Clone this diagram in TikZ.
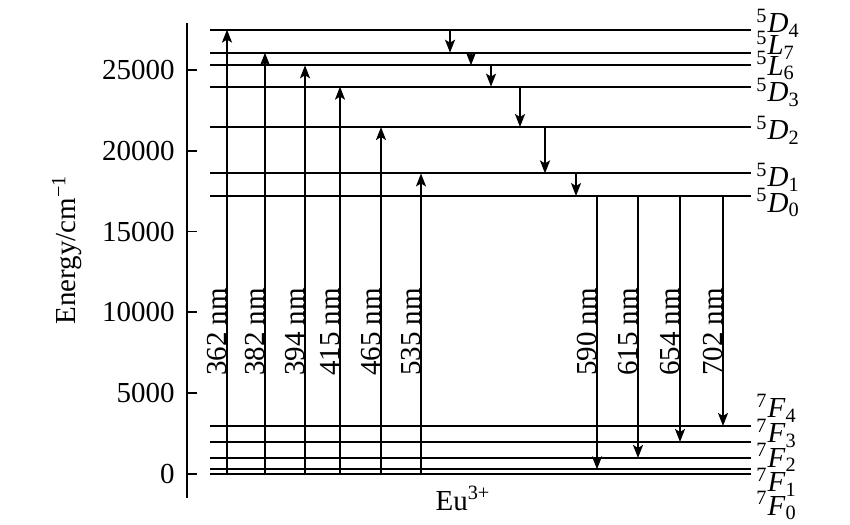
\documentclass[tikz,border=0pt]{standalone}
\usepackage{fontspec}
\setmainfont{Liberation Serif}
\usepackage{xcolor}
\usetikzlibrary{arrows.meta, positioning}

\tikzset{
    level/.style={line width=1pt},
    trans/.style={line width=0.9pt, -{Stealth[length=6.5pt, width=5pt, inset=1.5pt]}},
    wl/.style={rotate=90, anchor=south, inner sep=0pt, xshift=-2.5pt},
    term/.style={anchor=base west, inner sep=0pt},
}

\begin{document}
\begin{tikzpicture}[x=0.5pt, y=8.08pt, font=\fontsize{14.5}{17}\selectfont]
                \useasboundingbox (0,-3.094) rectangle (850,29.332);

                % energy axis
                \coordinate (ax0) at (187,27.9);
                \coordinate (ax1) at (187,-1.49);
                \draw[line width=0.9pt] (ax0) -- (ax1);
                \foreach \e/\txt in {0/0, 5/5000, 10/10000, 15/15000, 20/20000, 25/25000} {
                    \draw[line width=0.9pt] (187,\e) -- (197,\e);
                    \node[anchor=east, inner sep=0pt] (tick\e) at (175,\e) {\txt};
                }
                \node[rotate=90] (ylab) at (67,13.86) {Energy/cm\textsuperscript{−1}};

                % levels
                \foreach \n/\e in {D4/27.5, L7/26.07, L6/25.29, D3/23.97, D2/21.47, D1/18.6, D0/17.2,
                                   F4/2.97, F3/1.98, F2/0.99, F1/0.29, F0/0} {
                    \coordinate (\n) at (210,\e);
                    \draw[level] (\n) -- (751,\e);
                }

        		\node[term] (tD4) at (756,27.29) {\textsuperscript{5}\textit{D}\textsubscript{4}};
        		\node[term] (tL7) at (756,25.93) {\textsuperscript{5}\textit{L}\textsubscript{7}};
        		\node[term] (tL6) at (756,24.69) {\textsuperscript{5}\textit{L}\textsubscript{6}};
        		\node[term] (tD3) at (756,23.02) {\textsuperscript{5}\textit{D}\textsubscript{3}};
        		\node[term] (tD2) at (756,20.67) {\textsuperscript{5}\textit{D}\textsubscript{2}};
        		\node[term] (tD1) at (756,17.76) {\textsuperscript{5}\textit{D}\textsubscript{1}};
        		\node[term] (tD0) at (756,16.21) {\textsuperscript{5}\textit{D}\textsubscript{0}};
        		\node[term] (tF4) at (756,3.47) {\textsuperscript{7}\textit{F}\textsubscript{4}};
        		\node[term] (tF3) at (756,1.92) {\textsuperscript{7}\textit{F}\textsubscript{3}};
        		\node[term] (tF2) at (756,0.43) {\textsuperscript{7}\textit{F}\textsubscript{2}};
        		\node[term] (tF1) at (756,-1.11) {\textsuperscript{7}\textit{F}\textsubscript{1}};
        		\node[term] (tF0) at (756,-2.54) {\textsuperscript{7}\textit{F}\textsubscript{0}};

                % arrow columns
                \foreach \n/\x in {a362/227, a382/265, a394/305, a415/340, a465/381, a535/421,
                                   c1/450, c2/471, c3/491, c4/520, c5/545, c6/576,
                                   e590/597, e615/638, e654/680, e702/723}
                    \coordinate (\n) at (\x,9.1);

                % excitation
                \path[trans]
                (a362 |- F0) edge (a362 |- D4)
                (a382 |- F0) edge (a382 |- L7)
                (a394 |- F0) edge (a394 |- L6)
                (a415 |- F0) edge (a415 |- D3)
                (a465 |- F0) edge (a465 |- D2)
                (a535 |- F0) edge (a535 |- D1);

                % relaxation
                \path[trans]
                (c1 |- D4) edge (c1 |- L7)
                (c2 |- L7) edge (c2 |- L6)
                (c3 |- L6) edge (c3 |- D3)
                (c4 |- D3) edge (c4 |- D2)
                (c5 |- D2) edge (c5 |- D1)
                (c6 |- D1) edge (c6 |- D0);

                % emission
                \path[trans]
                (e590 |- D0) edge (e590 |- F1)
                (e615 |- D0) edge (e615 |- F2)
                (e654 |- D0) edge (e654 |- F3)
                (e702 |- D0) edge (e702 |- F4);

                \foreach \n in {362, 382, 394, 415, 465, 535}
                    \node[wl] (l\n) at (a\n) {\n~nm};
                \foreach \n in {590, 615, 654, 702}
                    \node[wl] (l\n) at (e\n) {\n~nm};

                \node[anchor=base] (ion) at (463,-2.23) {Eu\textsuperscript{3+}};
            \end{tikzpicture}
\end{document}
